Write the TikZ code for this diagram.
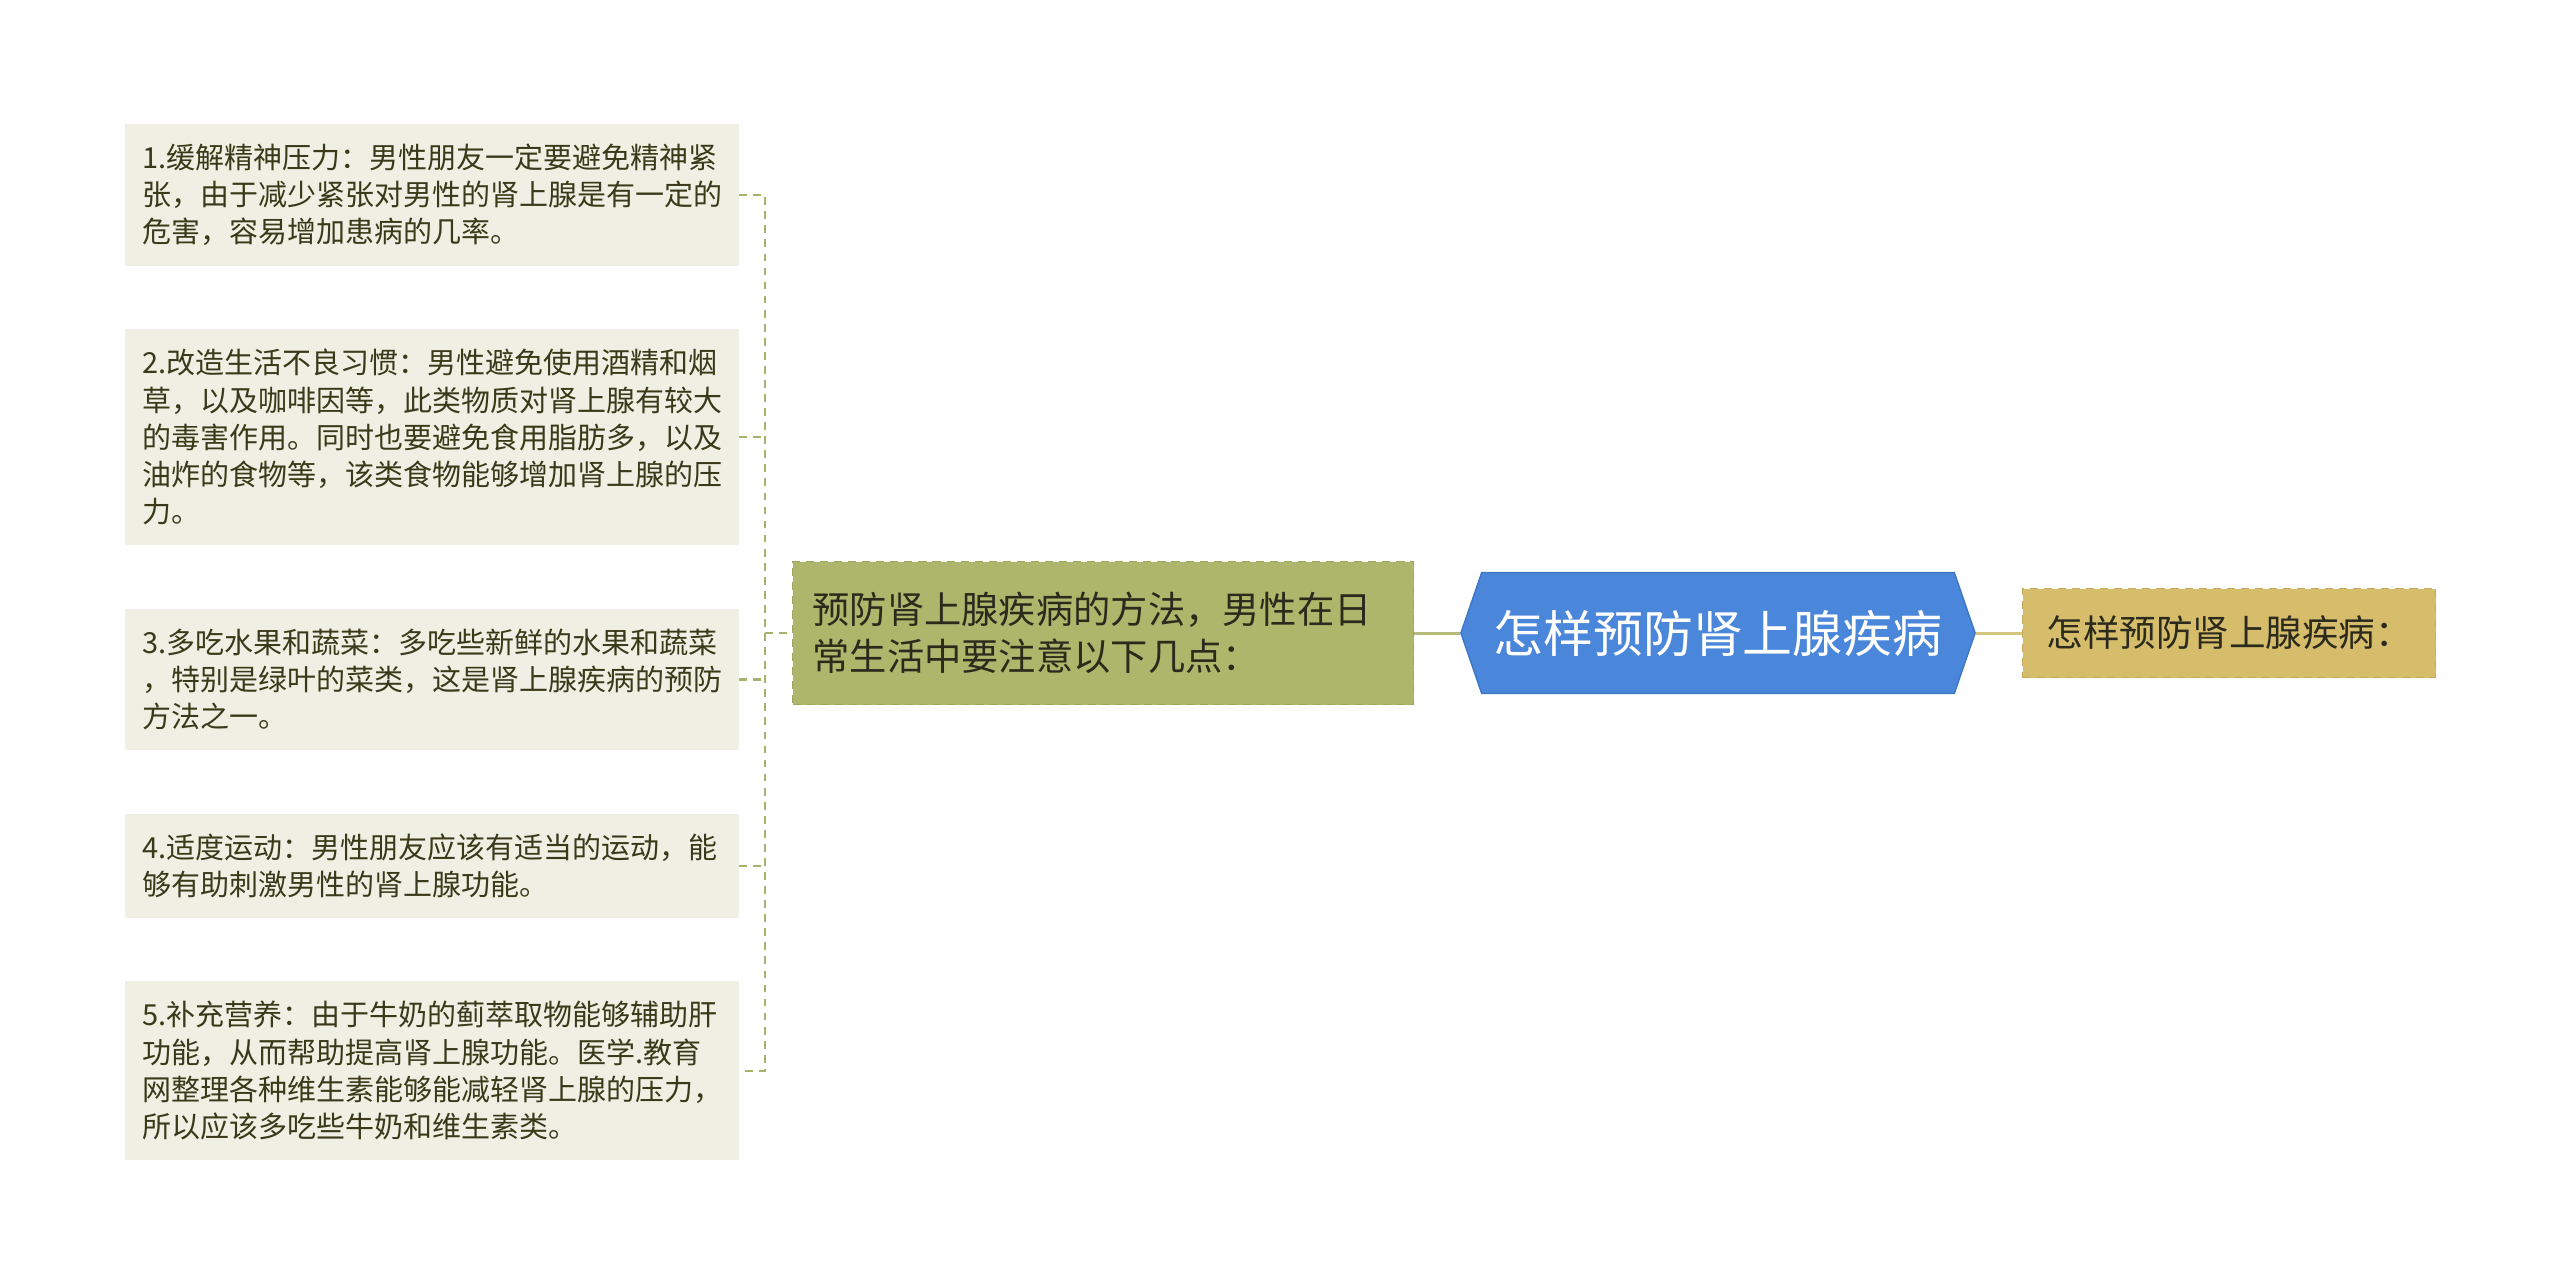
\documentclass[tikz,border=0pt]{standalone}
\usepackage{fontspec}
\setmainfont{Noto Sans CJK SC}
\usetikzlibrary{positioning,shapes.symbols}
\definecolor{leaffill}{HTML}{EFF0E3}
\definecolor{leaftext}{HTML}{3A3A1A}
\definecolor{olive}{HTML}{A9B26C}
\definecolor{midfill}{HTML}{AEB66B}
\definecolor{midline}{HTML}{9DA65A}
\definecolor{hubblue}{HTML}{4A86D9}
\definecolor{hubline}{HTML}{3E77C6}
\definecolor{tanfill}{HTML}{D6BD6C}
\definecolor{tanline}{HTML}{C3A959}
\definecolor{darktext}{HTML}{2B2A1C}
\definecolor{midlink}{HTML}{B4BB7B}
\definecolor{tanlink}{HTML}{D5C380}

\begin{document}
\begin{tikzpicture}[
  leaf/.style={fill=leaffill,text=leaftext,font=\fontsize{8.25}{10.6}\selectfont,align=left,text width=5.78cm,inner xsep=0.18cm,inner ysep=0.2cm},
  mid/.style={fill=midfill,draw=midline,dash pattern=on 2.3pt off 1.7pt,text=darktext,font=\fontsize{10.6}{13.4}\selectfont,align=left,text width=5.81cm,inner xsep=0.2cm,minimum height=1.43cm},
  hub/.style={signal,signal to=west and east,signal pointer angle=142,fill=hubblue,draw=hubline,text=white,font=\fontsize{14.2}{17}\selectfont,minimum width=4.92cm,minimum height=1.21cm},
  tip/.style={fill=tanfill,draw=tanline,dash pattern=on 2.3pt off 1.7pt,text=darktext,font=\fontsize{10.4}{12}\selectfont,minimum width=4.13cm,minimum height=0.89cm},
  link/.style={draw=olive,line width=0.6pt,dash pattern=on 2.2pt off 1.8pt}
]
\useasboundingbox (0,0) rectangle (25.6,-12.84);

\node[leaf,anchor=north west] (p1) at (1.24,-1.23) {1.缓解精神压力：男性朋友一定要避免精神紧\\张，由于减少紧张对男性的肾上腺是有一定的\\危害，容易增加患病的几率。};
\node[leaf,below=0.62cm of p1] (p2) {2.改造生活不良习惯：男性避免使用酒精和烟\\草，以及咖啡因等，此类物质对肾上腺有较大\\的毒害作用。同时也要避免食用脂肪多，以及\\油炸的食物等，该类食物能够增加肾上腺的压\\力。};
\node[leaf,below=0.62cm of p2] (p3) {3.多吃水果和蔬菜：多吃些新鲜的水果和蔬菜\\，特别是绿叶的菜类，这是肾上腺疾病的预防\\方法之一。};
\node[leaf,below=0.62cm of p3] (p4) {4.适度运动：男性朋友应该有适当的运动，能\\够有助刺激男性的肾上腺功能。};
\node[leaf,below=0.62cm of p4] (p5) {5.补充营养：由于牛奶的蓟萃取物能够辅助肝\\功能，从而帮助提高肾上腺功能。医学.教育\\网整理各种维生素能够能减轻肾上腺的压力，\\所以应该多吃些牛奶和维生素类。};

\node[mid,anchor=west] (m) at (7.92,-6.33) {预防肾上腺疾病的方法，男性在日\\常生活中要注意以下几点：};
\node[hub] (h) at (17.18,-6.33) {怎样预防肾上腺疾病};
\node[tip,anchor=west] (t) at (20.22,-6.33) {怎样预防肾上腺疾病：};

\coordinate (spine) at (7.65,-6.33);
\draw[link] (p1.east) -- (p1.east -| spine) -- (p5.east -| spine) -- (p5.east);
\foreach \n in {p2,p3,p4}
  \draw[link] (\n.east) -- (\n.east -| spine);
\draw[link] (spine) -- (m.west);
\draw[midlink,line width=0.85pt] (m.east) -- (h.west);
\draw[tanlink,line width=0.85pt] (h.east) -- (t.west);
\end{tikzpicture}
\end{document}
